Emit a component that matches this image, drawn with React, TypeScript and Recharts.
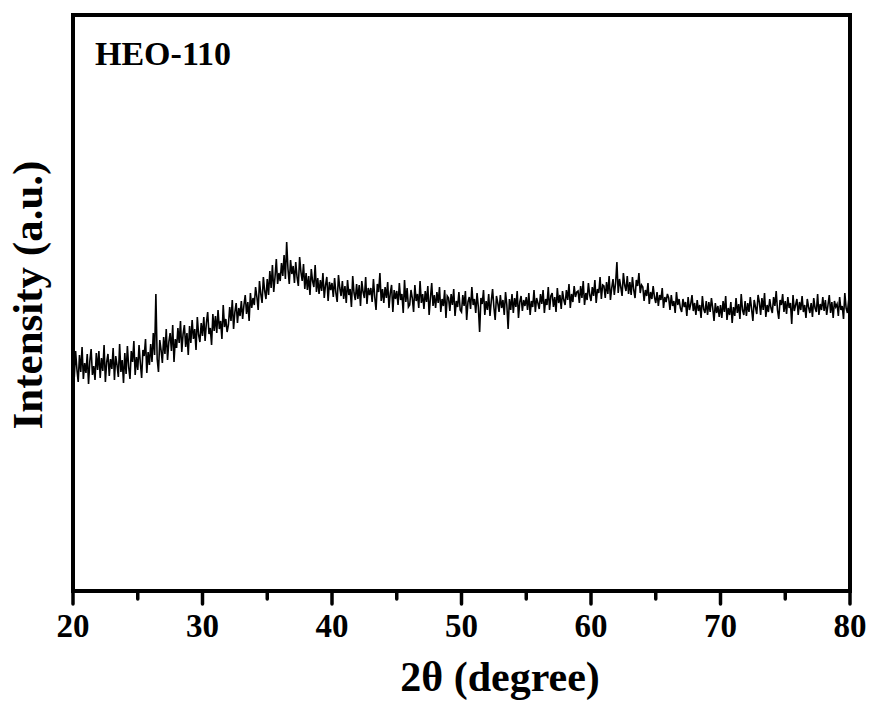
import React from "react";
import { LineChart, Line, XAxis, YAxis, ReferenceArea, Customized } from "recharts";

// XRD scan of HEO-110, intensity in arbitrary units, 0.1 degree step
const sampleLabel = "HEO-110";
const xAxisTitle = "2θ (degree)";
const yAxisTitle = "Intensity (a.u.)";
const majorTicks = [20, 30, 40, 50, 60, 70, 80];
const minorTicks = [25, 35, 45, 55, 65, 75];
const scanStart = 20;
const scanStep = 0.1;

const intensity20to30 = [
  231, 214, 240, 222, 209, 236, 219, 244, 212, 228,
  218, 237, 207, 230, 242, 216, 225, 211, 238, 221,
  240, 213, 233, 220, 246, 209, 229, 237, 215, 232,
  222, 243, 211, 235, 226, 214, 247, 219, 231, 208,
  238, 217, 245, 224, 212, 240, 229, 250, 216, 234,
  221, 246, 228, 213, 241, 235, 252, 218, 239, 226,
  247, 229, 258, 236, 297, 232, 219, 251, 241, 228,
  254, 237, 262, 231, 249, 258, 240, 266, 229, 252,
  243, 263, 248, 270, 239, 257, 266, 244, 258, 236,
  265, 248, 271, 252, 262, 241, 274, 256, 249, 268,
];
const intensity30to40 = [
  255, 274, 250, 268, 279, 257, 263, 246, 277, 260,
  275, 258, 281, 262, 270, 252, 286, 264, 272, 259,
  266, 284, 270, 291, 262, 279, 288, 268, 283, 275,
  290, 272, 286, 296, 277, 289, 270, 298, 283, 293,
  286, 304, 294, 281, 310, 297, 288, 314, 300, 292,
  312, 296, 320, 303, 326, 299, 314, 332, 307, 318,
  310, 328, 315, 336, 312, 349, 322, 307, 331, 317,
  325, 308, 329, 314, 305, 334, 319, 310, 327, 302,
  318, 301, 315, 296, 322, 310, 304, 326, 299, 313,
  297, 311, 300, 318, 293, 306, 314, 290, 309, 301,
];
const intensity40to50 = [
  308, 294, 313, 298, 289, 316, 303, 295, 310, 292,
  305, 288, 311, 296, 302, 284, 315, 298, 291, 307,
  292, 306, 285, 310, 299, 293, 314, 287, 303, 296,
  303, 289, 312, 294, 281, 307, 299, 318, 290, 302,
  288, 304, 293, 309, 283, 298, 306, 279, 301, 292,
  300, 286, 308, 291, 297, 278, 311, 289, 303, 284,
  286, 301, 293, 279, 306, 290, 297, 283, 310, 288,
  297, 282, 300, 289, 305, 276, 293, 308, 285, 296,
  283, 299, 288, 304, 279, 292, 285, 301, 273, 295,
  293, 280, 297, 286, 302, 275, 290, 284, 299, 281,
];
const intensity50to60 = [
  279, 296, 285, 300, 271, 289, 294, 282, 304, 286,
  292, 278, 298, 284, 259, 293, 287, 301, 276, 290,
  281, 297, 275, 290, 302, 284, 271, 295, 288, 279,
  296, 283, 291, 276, 299, 286, 262, 292, 281, 297,
  278, 293, 284, 300, 273, 289, 295, 280, 291, 285,
  294, 281, 298, 276, 290, 284, 301, 279, 293, 288,
  282, 297, 287, 301, 278, 292, 286, 304, 281, 295,
  298, 284, 294, 279, 303, 288, 296, 282, 300, 291,
  286, 301, 291, 307, 283, 297, 289, 305, 294, 299,
  300, 288, 305, 293, 310, 286, 298, 291, 308, 296,
];
const intensity60to70 = [
  290, 304, 295, 311, 288, 302, 298, 314, 292, 306,
  305, 293, 309, 297, 315, 291, 303, 312, 296, 308,
  329, 298, 312, 304, 295, 318, 306, 300, 315, 297,
  309, 296, 314, 301, 293, 311, 305, 318, 298, 306,
  304, 290, 301, 295, 308, 287, 299, 292, 305, 294,
  288, 299, 285, 296, 291, 303, 283, 294, 289, 297,
  293, 281, 296, 285, 290, 278, 299, 286, 292, 283,
  279, 292, 284, 289, 275, 294, 281, 287, 296, 280,
  288, 276, 291, 280, 286, 273, 295, 282, 278, 290,
  276, 289, 279, 293, 283, 270, 288, 278, 285, 274,
];
const intensity70to80 = [
  286, 273, 290, 279, 295, 271, 283, 276, 289, 268,
  284, 275, 293, 278, 287, 272, 297, 281, 276, 290,
  275, 288, 279, 294, 282, 270, 291, 284, 277, 296,
  289, 276, 293, 281, 298, 274, 286, 279, 292, 283,
  278, 294, 285, 300, 281, 272, 291, 286, 297, 279,
  290, 277, 294, 283, 288, 267, 296, 280, 286, 292,
  276, 289, 281, 295, 279, 286, 273, 292, 284, 278,
  288, 274, 293, 283, 279, 297, 276, 287, 281, 294,
  280, 291, 276, 286, 296, 278, 289, 273, 290, 284,
  287, 275, 294, 281, 285, 272, 298, 283, 278, 291,
];
const intensity80 = [283];

const intensity = [
  ...intensity20to30,
  ...intensity30to40,
  ...intensity40to50,
  ...intensity50to60,
  ...intensity60to70,
  ...intensity70to80,
  ...intensity80,
];

const chartData = intensity.map((value, i) => ({
  angle: Math.round((scanStart + i * scanStep) * 10) / 10,
  value,
}));

const serif = "'Liberation Serif', 'Times New Roman', serif";

function AxisTick(props: any) {
  const { x, y, payload } = props;
  const major = majorTicks.includes(payload.value);
  return (
    <g>
      <line
        x1={x}
        x2={x}
        y1={y}
        y2={y + (major ? 13 : 8)}
        stroke="#000"
        strokeWidth={3.5}
        strokeLinecap="round"
      />
      {major && (
        <text
          x={x}
          y={y + 46}
          textAnchor="middle"
          fontFamily={serif}
          fontWeight="bold"
          fontSize={33}
          fill="#000"
        >
          {payload.value}
        </text>
      )}
    </g>
  );
}

function Titles() {
  return (
    <g fontFamily={serif} fontWeight="bold" fill="#000">
      <text x={95} y={65} fontSize={34}>
        {sampleLabel}
      </text>
      <text x={500} y={691} fontSize={42} textAnchor="middle">
        {xAxisTitle}
      </text>
      <text
        x={42}
        y={295}
        fontSize={43}
        textAnchor="middle"
        transform="rotate(-90, 42, 295)"
      >
        {yAxisTitle}
      </text>
    </g>
  );
}

export default function App() {
  return (
    <div style={{ position: "absolute", left: 0, top: 0, background: "#fff" }}>
      <LineChart
        width={872}
        height={702}
        data={chartData}
        margin={{ top: 15, right: 22, bottom: 51, left: 73 }}
      >
        <XAxis
          dataKey="angle"
          type="number"
          domain={[20, 80]}
          ticks={[...majorTicks, ...minorTicks].sort((a, b) => a - b)}
          tick={<AxisTick />}
          tickLine={false}
          axisLine={false}
          tickSize={0}
          tickMargin={0}
          height={60}
          interval={0}
        />
        <YAxis type="number" domain={[0, 576]} hide />
        <Line
          type="linear"
          dataKey="value"
          stroke="#000"
          strokeWidth={1.6}
          dot={false}
          isAnimationActive={false}
        />
        <ReferenceArea
          x1={20}
          x2={80}
          y1={0}
          y2={576}
          fill="none"
          stroke="#000"
          strokeWidth={4}
          ifOverflow="visible"
        />
        <Customized component={Titles} />
      </LineChart>
    </div>
  );
}
